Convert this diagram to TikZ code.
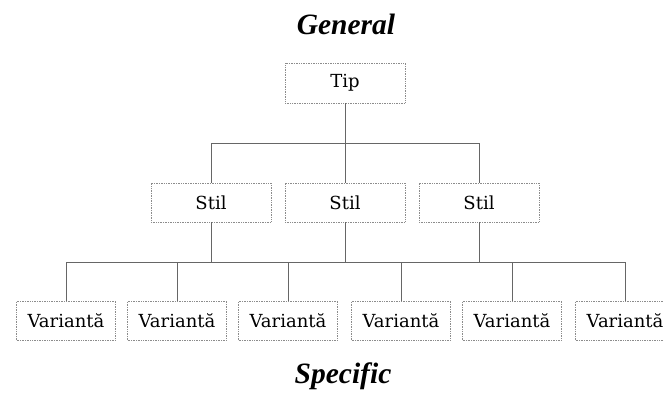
\documentclass[tikz,border=0pt]{standalone}
\usepackage{fontspec}
\setmainfont{Liberation Serif}
\newfontfamily\boxfont{DejaVu Serif}
\begin{document}
\begin{tikzpicture}[x=1pt,y=1pt,
  box/.style={draw=black!45, densely dotted, line width=0.7pt, minimum height=39pt, inner sep=0pt,
    font=\boxfont\fontsize{18}{20}\selectfont, text=black},
  wide/.style={box, minimum width=120pt},
  narrow/.style={box, minimum width=99pt},
  head/.style={font=\bfseries\itshape\fontsize{29.5}{32}\selectfont, text=black},
  conn/.style={draw=black!60, line width=0.7pt}]
\useasboundingbox (0,0) rectangle (664,-395);
\node[head] (gen) at (346,-24) {General};
\node[head] (spec) at (343,-376) {Specific};
\node[wide, minimum height=40pt] (tip) at (345,-83) {Tip};
\node[wide] (sL) at (211,-202.5) {Stil};
\node[wide] (sM) at (345,-202.5) {Stil};
\node[wide] (sR) at (479,-202.5) {Stil};
\node[narrow] (v1) at (66,-320.5) {Variantă};
\node[narrow] (v2) at (177,-320.5) {Variantă};
\node[narrow] (v3) at (288,-320.5) {Variantă};
\node[narrow] (v4) at (401,-320.5) {Variantă};
\node[narrow] (v5) at (512,-320.5) {Variantă};
\node[narrow] (v6) at (625,-320.5) {Variantă};
\coordinate (b1) at (345,-143);
\coordinate (b2) at (345,-262);
\draw[conn] (tip.south) -- (sM.north);
\draw[conn] (sL.north) |- (sR.north |- b1) -- (sR.north);
\draw[conn] (v1.north) |- (v6.north |- b2) -- (v6.north);
\foreach \v in {v2,v3,v4,v5} \draw[conn] (\v.north) -- (\v.north |- b2);
\foreach \s in {sL,sM,sR} \draw[conn] (\s.south) -- (\s.south |- b2);
\end{tikzpicture}
\end{document}
